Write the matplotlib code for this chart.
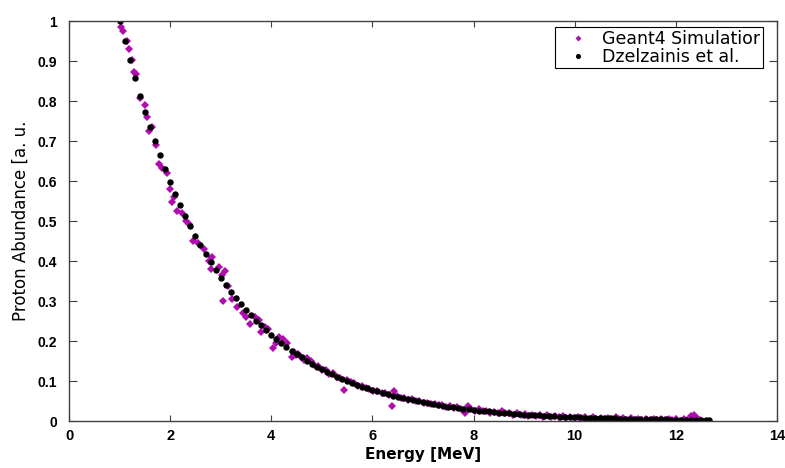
import numpy as np
import matplotlib
matplotlib.use("Agg")
import matplotlib.pyplot as plt

# Dzelzainis et al. (black dots)
dz_energy = [1.0, 1.1, 1.2, 1.3, 1.4, 1.5, 1.6, 1.7, 1.8, 1.9,
             2.0, 2.1, 2.2, 2.3, 2.4, 2.5, 2.6, 2.7, 2.8, 2.9,
             3.0, 3.1, 3.2, 3.3, 3.4, 3.5, 3.6, 3.7, 3.8, 3.9,
             4.0, 4.1, 4.2, 4.3, 4.4, 4.5, 4.6, 4.7, 4.8, 4.9,
             5.0, 5.1, 5.2, 5.3, 5.4, 5.5, 5.6, 5.7, 5.8, 5.9,
             6.0, 6.1, 6.2, 6.3, 6.4, 6.5, 6.6, 6.7, 6.8, 6.9,
             7.0, 7.1, 7.2, 7.3, 7.4, 7.5, 7.6, 7.7, 7.8, 7.9,
             8.0, 8.1, 8.2, 8.3, 8.4, 8.5, 8.6, 8.7, 8.8, 8.9,
             9.0, 9.1, 9.2, 9.3, 9.4, 9.5, 9.6, 9.7, 9.8, 9.9,
             10.0, 10.1, 10.2, 10.3, 10.4, 10.5, 10.6, 10.7, 10.8, 10.9,
             11.0, 11.1, 11.2, 11.3, 11.4, 11.5, 11.6, 11.7, 11.8, 11.9,
             12.0, 12.1, 12.2, 12.3, 12.4, 12.5, 12.6, 12.65]
dz_abund = [1.000, 0.951, 0.903, 0.857, 0.812, 0.773, 0.735, 0.699, 0.664, 0.630,
            0.598, 0.568, 0.540, 0.512, 0.487, 0.463, 0.440, 0.418, 0.397, 0.377,
            0.358, 0.340, 0.323, 0.307, 0.292, 0.278, 0.264, 0.251, 0.239, 0.227,
            0.216, 0.205, 0.195, 0.185, 0.176, 0.167, 0.159, 0.151, 0.143, 0.136,
            0.129, 0.123, 0.117, 0.111, 0.105, 0.100, 0.095, 0.090, 0.086, 0.082,
            0.078, 0.074, 0.070, 0.067, 0.063, 0.060, 0.057, 0.054, 0.052, 0.049,
            0.047, 0.044, 0.042, 0.040, 0.038, 0.036, 0.034, 0.032, 0.031, 0.029,
            0.028, 0.026, 0.025, 0.024, 0.022, 0.021, 0.020, 0.019, 0.018, 0.017,
            0.016, 0.0155, 0.015, 0.014, 0.013, 0.0125, 0.012, 0.011, 0.0105, 0.010,
            0.0095, 0.009, 0.0085, 0.008, 0.0077, 0.0073, 0.007, 0.0066, 0.0063, 0.006,
            0.0057, 0.0054, 0.0051, 0.0049, 0.0046, 0.0044, 0.0042, 0.004, 0.0038, 0.0036,
            0.0034, 0.0032, 0.003, 0.0029, 0.0027, 0.0026, 0.0024, 0.002]

# Geant4 simulation (magenta diamonds)
g4_energy = [1.03, 1.07, 1.14, 1.19, 1.25, 1.29, 1.33, 1.41, 1.50, 1.54,
             1.59, 1.64, 1.72, 1.78, 1.84, 1.93, 1.99, 2.04, 2.07, 2.13,
             2.23, 2.32, 2.38, 2.45, 2.55, 2.66, 2.76, 2.81, 2.83, 2.96,
             3.02, 3.04, 3.09, 3.14, 3.22, 3.33, 3.45, 3.50, 3.58, 3.68,
             3.75, 3.80, 3.87, 3.93, 4.03, 4.09, 4.16, 4.24, 4.32, 4.41,
             4.44, 4.48, 4.52, 4.58, 4.64, 4.71,
             4.78, 4.85, 4.93, 5.00, 5.08, 5.15, 5.22, 5.30, 5.36, 5.43,
             5.50, 5.57, 5.64, 5.72, 5.80, 5.87, 5.94, 6.02, 6.10, 6.18,
             6.25, 6.32, 6.39, 6.42, 6.48, 6.56, 6.63, 6.71, 6.78, 6.86,
             6.93, 7.01, 7.08, 7.16, 7.23, 7.31, 7.38, 7.46, 7.53, 7.61,
             7.68, 7.76, 7.84, 7.89, 7.95, 8.03, 8.10, 8.18, 8.25, 8.33,
             8.41, 8.48, 8.56, 8.63, 8.71, 8.78, 8.86, 8.93, 9.01, 9.08,
             9.16, 9.23, 9.31, 9.38, 9.46, 9.53, 9.61, 9.68, 9.76, 9.83,
             9.91, 9.98, 10.06, 10.13, 10.21, 10.28, 10.36, 10.43, 10.51, 10.58,
             10.66, 10.73, 10.81, 10.88, 10.96, 11.03, 11.11, 11.18, 11.26, 11.33,
             11.41, 11.48, 11.56, 11.63, 11.71, 11.78, 11.86, 11.93, 12.01, 12.08,
             12.16, 12.23, 12.30, 12.36, 12.42, 12.48]
g4_abund = [0.985, 0.975, 0.951, 0.930, 0.902, 0.873, 0.868, 0.808, 0.789, 0.761,
            0.724, 0.735, 0.689, 0.643, 0.633, 0.620, 0.580, 0.548, 0.559, 0.525,
            0.519, 0.501, 0.492, 0.449, 0.444, 0.431, 0.401, 0.381, 0.409, 0.384,
            0.365, 0.300, 0.375, 0.338, 0.306, 0.286, 0.269, 0.259, 0.243, 0.261,
            0.253, 0.223, 0.236, 0.229, 0.183, 0.196, 0.211, 0.204, 0.196, 0.159,
            0.173, 0.165, 0.168, 0.160, 0.153, 0.157,
            0.150, 0.140, 0.138, 0.128, 0.127, 0.118, 0.119, 0.110, 0.108, 0.078,
            0.102, 0.097, 0.094, 0.088, 0.088, 0.082, 0.081, 0.075, 0.076, 0.069,
            0.071, 0.064, 0.038, 0.076, 0.062, 0.058, 0.057, 0.053, 0.054, 0.049,
            0.050, 0.046, 0.046, 0.042, 0.043, 0.039, 0.040, 0.035, 0.037, 0.033,
            0.034, 0.030, 0.019, 0.037, 0.031, 0.026, 0.029, 0.024, 0.026, 0.020,
            0.022, 0.019, 0.024, 0.019, 0.021, 0.016, 0.019, 0.015, 0.018, 0.013,
            0.016, 0.012, 0.015, 0.011, 0.014, 0.010, 0.013, 0.009, 0.012, 0.008,
            0.011, 0.008, 0.010, 0.006, 0.009, 0.006, 0.010, 0.005, 0.008, 0.005,
            0.008, 0.004, 0.009, 0.004, 0.007, 0.003, 0.007, 0.003, 0.006, 0.003,
            0.006, 0.002, 0.006, 0.002, 0.005, 0.002, 0.006, 0.002, 0.005, 0.001,
            0.004, 0.002, 0.012, 0.014, 0.008, 0.003]

x_ticks = [0, 2, 4, 6, 8, 10, 12, 14]
y_ticks = [0, 0.1, 0.2, 0.3, 0.4, 0.5, 0.6, 0.7, 0.8, 0.9, 1]
y_tick_labels = ["0", "0.1", "0.2", "0.3", "0.4", "0.5", "0.6", "0.7", "0.8", "0.9", "1"]

fig = plt.figure(figsize=(7.85, 4.68), dpi=100)
ax = fig.add_axes([0.0879, 0.1004, 0.9019, 0.8547])

ax.plot(g4_energy, g4_abund, linestyle="none", marker="D", markersize=3.8,
        color="#b00cb0", markeredgewidth=0, label="Geant4 Simulatior")
ax.plot(dz_energy, dz_abund, linestyle="none", marker="o", markersize=4.6,
        color="black", markeredgewidth=0, label="Dzelzainis et al.")

ax.set_xlim(0, 14)
ax.set_ylim(0, 1)
ax.set_xticks(x_ticks)
ax.set_xticklabels([str(t) for t in x_ticks], fontweight="bold", fontsize=10.5,
                   family="Liberation Sans")
ax.set_yticks(y_ticks)
ax.set_yticklabels(y_tick_labels, fontweight="bold", fontsize=10,
                   family="Liberation Sans")
ax.tick_params(direction="in", top=True, right=True, width=0.8, color="#404040")
ax.tick_params(axis="x", length=4.5, pad=5.5)
ax.tick_params(axis="y", length=5.5, pad=8.5)
for s in ax.spines.values():
    s.set_color("#404040")
    s.set_linewidth(1.0)

ax.set_xlabel("Energy [MeV]", fontweight="bold", fontsize=11,
              family="DejaVu Sans", labelpad=3)
ax.set_ylabel("Proton Abundance [a. u.", fontsize=12,
              family="DejaVu Sans", labelpad=6)

leg = ax.legend(loc="upper left", bbox_to_anchor=(0.6864, 0.985), borderaxespad=0,
                prop={"family": "DejaVu Sans", "size": 12.5},
                markerscale=0.8, handlelength=2.35, handletextpad=0.2,
                borderpad=0.15, labelspacing=0.0, fancybox=False, framealpha=1)
leg.get_frame().set_edgecolor("black")
leg.get_frame().set_linewidth(0.8)

fig.savefig("out.png", dpi=100)
